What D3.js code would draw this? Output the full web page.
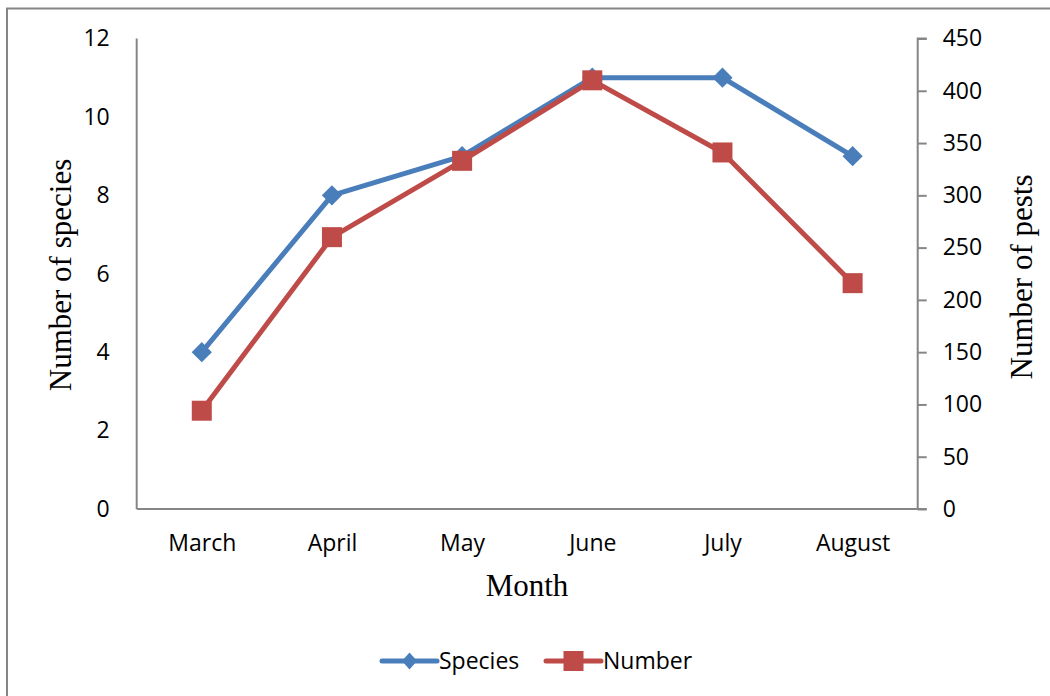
<!DOCTYPE html>
<html>
<head>
<meta charset="utf-8">
<script src="https://cdn.jsdelivr.net/npm/d3@7"></script>
<style>
  body { margin: 0; background: #fff; }
  svg { display: block; }
</style>
</head>
<body>
<div id="chart"></div>
<script>
// data
const months = ['March', 'April', 'May', 'June', 'July', 'August']
const species = [4, 8, 9, 11, 11, 9]
const pests = [94, 260, 333, 410, 341, 216]
const leftTicks = [0, 2, 4, 6, 8, 10, 12]
const rightTicks = [0, 50, 100, 150, 200, 250, 300, 350, 400, 450]

const blue = '#4a7ebb'
const red = '#be4b48'
const axisGrey = '#868686'
const tickFont = '"Open Sans", sans-serif'
const titleFont = '"Liberation Serif", "Times New Roman", serif'

let dimensions = {
    width: 1050,
    height: 696,
    margin: { top: 38.5, bottom: 187, left: 136.7, right: 132.3 }
}
dimensions.ctrWidth = dimensions.width - dimensions.margin.left - dimensions.margin.right
dimensions.ctrHeight = dimensions.height - dimensions.margin.top - dimensions.margin.bottom

const svg = d3.select('#chart')
    .append('svg')
    .attr('width', dimensions.width)
    .attr('height', dimensions.height)

// outer frame (right and bottom edges fall off the picture)
svg.append('rect')
    .attr('x', 7)
    .attr('y', 8.5)
    .attr('width', 1100)
    .attr('height', 800)
    .attr('fill', 'none')
    .attr('stroke', axisGrey)
    .attr('stroke-width', 2)

const ctr = svg.append('g')
    .attr('transform', `translate(${dimensions.margin.left}, ${dimensions.margin.top})`)

const xScale = d3.scalePoint()
    .domain(months)
    .range([0, dimensions.ctrWidth])
    .padding(0.5)

const yLeft = d3.scaleLinear()
    .domain([0, 12])
    .range([dimensions.ctrHeight, 0])

const yRight = d3.scaleLinear()
    .domain([0, 450])
    .range([dimensions.ctrHeight, 0])

// axes
const xAxis = d3.axisBottom(xScale).tickSize(0).tickPadding(26)
const xAxisGroup = ctr.append('g')
    .attr('transform', `translate(0, ${dimensions.ctrHeight})`)
    .call(xAxis)

const leftAxis = d3.axisLeft(yLeft).tickValues(leftTicks).tickSize(0).tickPadding(27)
const leftGroup = ctr.append('g').call(leftAxis)

const rightAxis = d3.axisRight(yRight).tickValues(rightTicks).tickSize(9).tickPadding(16)
const rightGroup = ctr.append('g')
    .attr('transform', `translate(${dimensions.ctrWidth}, 0)`)
    .call(rightAxis)

;[xAxisGroup, leftGroup, rightGroup].forEach(g => {
    g.select('.domain').attr('stroke', axisGrey).attr('stroke-width', 2)
    g.selectAll('.tick line').attr('stroke', axisGrey).attr('stroke-width', 2)
    g.selectAll('.tick text')
        .attr('fill', '#000')
        .style('font-family', tickFont)
        .style('font-size', '23px')
})
// plain domain lines, no end caps except on the right axis
xAxisGroup.select('.domain').attr('d', `M0,0H${dimensions.ctrWidth}`)
leftGroup.select('.domain').attr('d', `M0,0V${dimensions.ctrHeight}`)
rightGroup.select('.domain').attr('d', `M9,0H0V${dimensions.ctrHeight}H9`)

// lines
const speciesLine = d3.line()
    .x((d, i) => xScale(months[i]))
    .y(d => yLeft(d))

const pestLine = d3.line()
    .x((d, i) => xScale(months[i]))
    .y(d => yRight(d))

ctr.append('path')
    .datum(species)
    .attr('d', speciesLine)
    .attr('fill', 'none')
    .attr('stroke', blue)
    .attr('stroke-width', 5)
    .attr('stroke-linejoin', 'round')

ctr.selectAll('.diamond')
    .data(species)
    .join('path')
    .attr('class', 'diamond')
    .attr('d', d3.symbol(d3.symbolDiamond2, 260))
    .attr('transform', (d, i) => `translate(${xScale(months[i])}, ${yLeft(d)})`)
    .attr('fill', blue)

ctr.append('path')
    .datum(pests)
    .attr('d', pestLine)
    .attr('fill', 'none')
    .attr('stroke', red)
    .attr('stroke-width', 5)
    .attr('stroke-linejoin', 'round')

ctr.selectAll('.square')
    .data(pests)
    .join('rect')
    .attr('class', 'square')
    .attr('x', (d, i) => xScale(months[i]) - 10)
    .attr('y', d => yRight(d) - 10)
    .attr('width', 20)
    .attr('height', 20)
    .attr('fill', red)

// axis titles
svg.append('text')
    .attr('transform', 'translate(71, 275) rotate(-90)')
    .attr('text-anchor', 'middle')
    .style('font-family', titleFont)
    .style('font-size', '31px')
    .text('Number of species')

svg.append('text')
    .attr('transform', 'translate(1032, 277) rotate(-90)')
    .attr('text-anchor', 'middle')
    .style('font-family', titleFont)
    .style('font-size', '31px')
    .text('Number of pests')

svg.append('text')
    .attr('x', 527)
    .attr('y', 596)
    .attr('text-anchor', 'middle')
    .style('font-family', titleFont)
    .style('font-size', '31px')
    .text('Month')

// legend
const legendItems = [
    { name: 'Species', color: blue, x: 382, shape: 'diamond' },
    { name: 'Number', color: red, x: 546, shape: 'square' }
]
const legend = svg.append('g').attr('transform', 'translate(0, 661)')

legendItems.forEach(item => {
    const g = legend.append('g').attr('transform', `translate(${item.x}, 0)`)
    g.append('line')
        .attr('x1', 0).attr('x2', 55)
        .attr('stroke', item.color)
        .attr('stroke-width', 5)
        .attr('stroke-linecap', 'round')
    if (item.shape === 'diamond') {
        g.append('path')
            .attr('d', 'M27.5,-8.5L35,0L27.5,8.5L20,0Z')
            .attr('fill', item.color)
    } else {
        g.append('rect')
            .attr('x', 17.5).attr('y', -10)
            .attr('width', 20).attr('height', 20)
            .attr('fill', item.color)
    }
    g.append('text')
        .attr('x', 57)
        .attr('dy', '0.35em')
        .style('font-family', tickFont)
        .style('font-size', '23px')
        .text(item.name)
})
</script>
</body>
</html>
